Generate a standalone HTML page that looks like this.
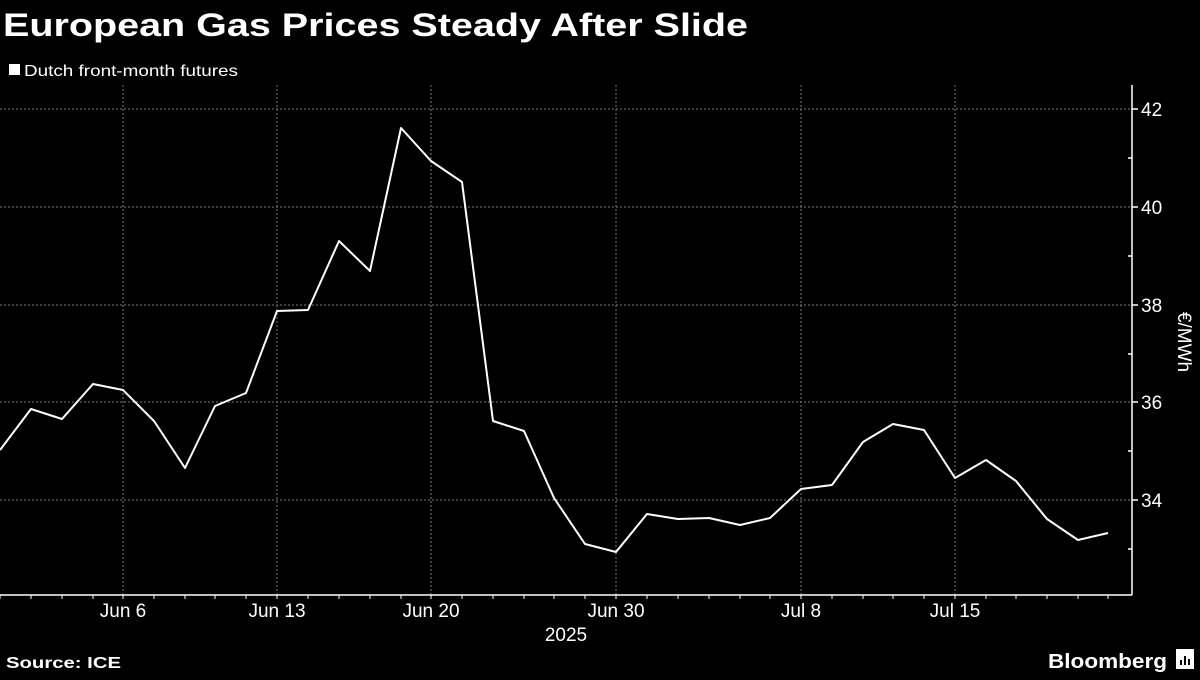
<!DOCTYPE html>
<html><head><meta charset="utf-8"><style>
body{margin:0;background:#000;width:1200px;height:675px;overflow:hidden;font-family:"Liberation Sans",sans-serif}
</style></head><body>
<svg width="1200" height="675" xmlns="http://www.w3.org/2000/svg" font-family="Liberation Sans, sans-serif">
<rect width="1200" height="675" fill="#000"/>
<text x="3" y="36" fill="#fff" font-size="32" font-weight="bold" textLength="745" lengthAdjust="spacingAndGlyphs">European Gas Prices Steady After Slide</text>
<rect x="9" y="64" width="11" height="11" fill="#fff"/>
<text x="24" y="76" fill="#fff" font-size="16" textLength="214" lengthAdjust="spacingAndGlyphs">Dutch front-month futures</text>
<g stroke="#777" stroke-dasharray="2,2" stroke-width="1">
<line x1="0" y1="109" x2="1131" y2="109"/><line x1="0" y1="207" x2="1131" y2="207"/>
<line x1="0" y1="305" x2="1131" y2="305"/><line x1="0" y1="402" x2="1131" y2="402"/>
<line x1="0" y1="500" x2="1131" y2="500"/>
<line x1="123" y1="85" x2="123" y2="595"/><line x1="277" y1="85" x2="277" y2="595"/>
<line x1="431" y1="85" x2="431" y2="595"/><line x1="616" y1="85" x2="616" y2="595"/>
<line x1="801" y1="85" x2="801" y2="595"/><line x1="955" y1="85" x2="955" y2="595"/>
</g>
<g stroke="#fff" stroke-width="1.5">
<line x1="0" y1="595" x2="1132" y2="595"/>
<line x1="1132" y1="85" x2="1132" y2="595"/>
<line x1="1132" y1="109" x2="1138" y2="109"/><line x1="1132" y1="207" x2="1138" y2="207"/>
<line x1="1132" y1="305" x2="1138" y2="305"/><line x1="1132" y1="402" x2="1138" y2="402"/>
<line x1="1132" y1="500" x2="1138" y2="500"/>
<line x1="1128" y1="158" x2="1132" y2="158"/><line x1="1128" y1="256" x2="1132" y2="256"/>
<line x1="1128" y1="354" x2="1132" y2="354"/><line x1="1128" y1="451" x2="1132" y2="451"/>
<line x1="1128" y1="549" x2="1132" y2="549"/>
</g>
<g stroke="#fff" stroke-width="1">
<path d="M0 595v4M31 595v4M62 595v4M93 595v4M123 595v4M154 595v4M185 595v4M215 595v4M246 595v4M277 595v4M308 595v4M339 595v4M370 595v4M401 595v4M431 595v4M462 595v4M493 595v4M524 595v4M554 595v4M585 595v4M616 595v4M647 595v4M678 595v4M709 595v4M740 595v4M770 595v4M801 595v4M832 595v4M863 595v4M893 595v4M924 595v4M955 595v4M986 595v4M1016 595v4M1047 595v4M1078 595v4M1108 595v4"/>
</g>
<g fill="#fff" font-size="19">
<text x="1141" y="116">42</text><text x="1141" y="214">40</text><text x="1141" y="312">38</text>
<text x="1141" y="409">36</text><text x="1141" y="507">34</text>
<text x="123" y="617" text-anchor="middle">Jun 6</text><text x="277" y="617" text-anchor="middle">Jun 13</text>
<text x="431" y="617" text-anchor="middle">Jun 20</text><text x="616" y="617" text-anchor="middle">Jun 30</text>
<text x="801" y="617" text-anchor="middle">Jul 8</text><text x="955" y="617" text-anchor="middle">Jul 15</text>
<text x="566" y="641" text-anchor="middle">2025</text>
<text transform="translate(1178,342) rotate(90)" text-anchor="middle">€/MWh</text>
</g>
<polyline fill="none" stroke="#fff" stroke-width="2" stroke-linejoin="round" points="0,450 31,409 62,419 93,384 123,390 154,421 185,468 215,406 246,393 277,311 308,310 339,241 370,271 401,128 431,161 462,182 493,421 524,431 554,498 585,544 616,552 647,514 678,519 709,518 740,525 770,518 801,489 832,485 863,442 893,424 924,430 955,478 986,460 1016,481 1047,519 1078,540 1108,533"/>
<text x="6" y="668" fill="#fff" font-size="16" font-weight="bold" textLength="115" lengthAdjust="spacingAndGlyphs">Source: ICE</text>
<text x="1048" y="668" fill="#fff" font-size="20" font-weight="bold" textLength="119" lengthAdjust="spacingAndGlyphs">Bloomberg</text>
<rect x="1176" y="649" width="18" height="20" fill="#fff"/>
<path d="M1181 665v-5M1185 665v-9M1189 665v-6" stroke="#000" stroke-width="2"/>
</svg>
</body></html>
